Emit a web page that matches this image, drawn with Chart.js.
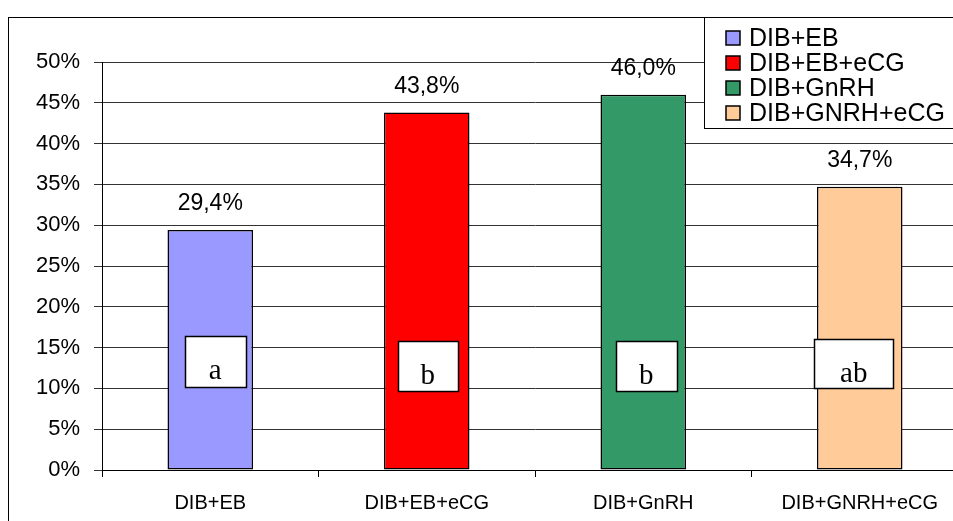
<!DOCTYPE html>
<html>
<head>
<meta charset="utf-8">
<title>DIB protocols</title>
<script src="https://cdn.jsdelivr.net/npm/chart.js@4/dist/chart.umd.min.js"></script>
<style>
  html, body { margin: 0; padding: 0; background: #fff; overflow: hidden; }
  #wrap { position: relative; width: 953px; height: 521px; overflow: hidden; }
  canvas { position: absolute; left: 0; top: 0; }
</style>
</head>
<body>
<div id="wrap"><canvas id="c" width="975" height="540"></canvas></div>
<script>
// Treatment groups and their rates (%)
const categories = ['DIB+EB', 'DIB+EB+eCG', 'DIB+GnRH', 'DIB+GNRH+eCG'];
const legendLabels = ['DIB+EB', 'DIB+EB+eCG', 'DIB+GnRH', 'DIB+GNRH+eCG'];
const rates = [29.4, 43.8, 46.0, 34.7];
const groupLetters = ['a', 'b', 'b', 'ab'];
const yTicks = [0, 5, 10, 15, 20, 25, 30, 35, 40, 45, 50];

const barColors = ['#9999FF', '#FF0000', '#339966', '#FFCC99'];

// Placement of the significance-letter boxes (offset from bar centre, width, top in %)
const letterBoxStyle = [
  { dx: 5,  w: 61, top: 16.4, h: 51 },
  { dx: 1,  w: 60, top: 15.8, h: 50 },
  { dx: 3,  w: 61, top: 15.8, h: 50 },
  { dx: -6, w: 79, top: 16.0, h: 49 }
];

const SANS = '"Liberation Sans", Arial, sans-serif';
const SERIF = '"Liberation Serif", "Times New Roman", serif';

const framePlugin = {
  id: 'frame',
  beforeDraw(chart) {
    const ctx = chart.ctx;
    ctx.save();
    ctx.fillStyle = '#fff';
    ctx.fillRect(0, 0, chart.width, chart.height);
    ctx.strokeStyle = '#000';
    ctx.lineWidth = 1;
    ctx.strokeRect(8.5, 17.5, 1200, 1200);
    ctx.restore();
  }
};

const valueLabelPlugin = {
  id: 'valueLabels',
  afterDatasetsDraw(chart) {
    const ctx = chart.ctx;
    const meta = chart.getDatasetMeta(0);
    const yScale = chart.scales.y;
    ctx.save();
    meta.data.forEach((bar, i) => {
      const v = rates[i];
      // value label above the bar
      ctx.font = '23px ' + SANS;
      ctx.fillStyle = '#000';
      ctx.textAlign = 'center';
      ctx.textBaseline = 'alphabetic';
      ctx.fillText(v.toFixed(1).replace('.', ',') + '%', bar.x, bar.y - 20);

      // significance letter box inside the bar
      const s = letterBoxStyle[i];
      const cx = bar.x + s.dx;
      const top = Math.round(yScale.getPixelForValue(s.top)) + 0.5;
      const left = Math.round(cx - s.w / 2) + 0.5;
      ctx.fillStyle = '#fff';
      ctx.fillRect(left, top, s.w, s.h);
      ctx.strokeStyle = '#000';
      ctx.lineWidth = 1.5;
      ctx.strokeRect(left, top, s.w, s.h);
      ctx.save();
      ctx.beginPath();
      ctx.rect(left, top, s.w, 43);
      ctx.clip();
      ctx.font = '29px ' + SERIF;
      ctx.fillStyle = '#000';
      ctx.textAlign = 'center';
      ctx.fillText(groupLetters[i], cx, top + 42);
      ctx.restore();
    });
    ctx.restore();
  }
};

const legendBoxPlugin = {
  id: 'legendBox',
  afterDraw(chart) {
    const ctx = chart.ctx;
    ctx.save();
    ctx.fillStyle = '#fff';
    ctx.fillRect(704.5, 17.5, 300, 111);
    ctx.strokeStyle = '#000';
    ctx.lineWidth = 1;
    ctx.strokeRect(704.5, 17.5, 300, 111);
    const rowY = [38, 63, 88, 113];
    legendLabels.forEach((label, i) => {
      const y = rowY[i];
      ctx.fillStyle = barColors[i];
      ctx.fillRect(726, y - 7, 14, 14);
      ctx.strokeStyle = '#000';
      ctx.lineWidth = 1.5;
      ctx.strokeRect(726, y - 7, 14, 14);
      ctx.fillStyle = '#000';
      ctx.font = '25px ' + SANS;
      ctx.textAlign = 'left';
      ctx.textBaseline = 'middle';
      ctx.fillText(label, 749, y + 1);
    });
    ctx.restore();
  }
};

new Chart(document.getElementById('c'), {
  type: 'bar',
  data: {
    labels: categories,
    datasets: [{
      data: rates,
      backgroundColor: barColors,
      borderColor: '#000',
      borderWidth: 1.5,
      borderSkipped: false,
      categoryPercentage: 1,
      barPercentage: 0.395
    }]
  },
  options: {
    responsive: false,
    animation: false,
    devicePixelRatio: 1,
    layout: { padding: { top: 62, right: 7, bottom: 20, left: 0 } },
    plugins: {
      legend: { display: false },
      tooltip: { enabled: false }
    },
    scales: {
      y: {
        min: 0,
        max: 50,
        afterFit(scale) { scale.width = 102; },
        afterBuildTicks(scale) { scale.ticks = yTicks.map(v => ({ value: v })); },
        ticks: {
          padding: 14,
          color: '#000',
          font: { family: SANS, size: 22 },
          callback: v => v + '%'
        },
        grid: { color: '#333', lineWidth: 1, tickLength: 8, drawTicks: true },
        border: { color: '#000', width: 1 }
      },
      x: {
        afterFit(scale) { scale.height = 50; },
        ticks: {
          padding: 14,
          color: '#000',
          font: { family: SANS, size: 20 }
        },
        grid: { drawOnChartArea: false, drawTicks: true, tickLength: 7, offset: true, color: '#000' },
        border: { color: '#000', width: 1 }
      }
    }
  },
  plugins: [framePlugin, valueLabelPlugin, legendBoxPlugin]
});
</script>
</body>
</html>
